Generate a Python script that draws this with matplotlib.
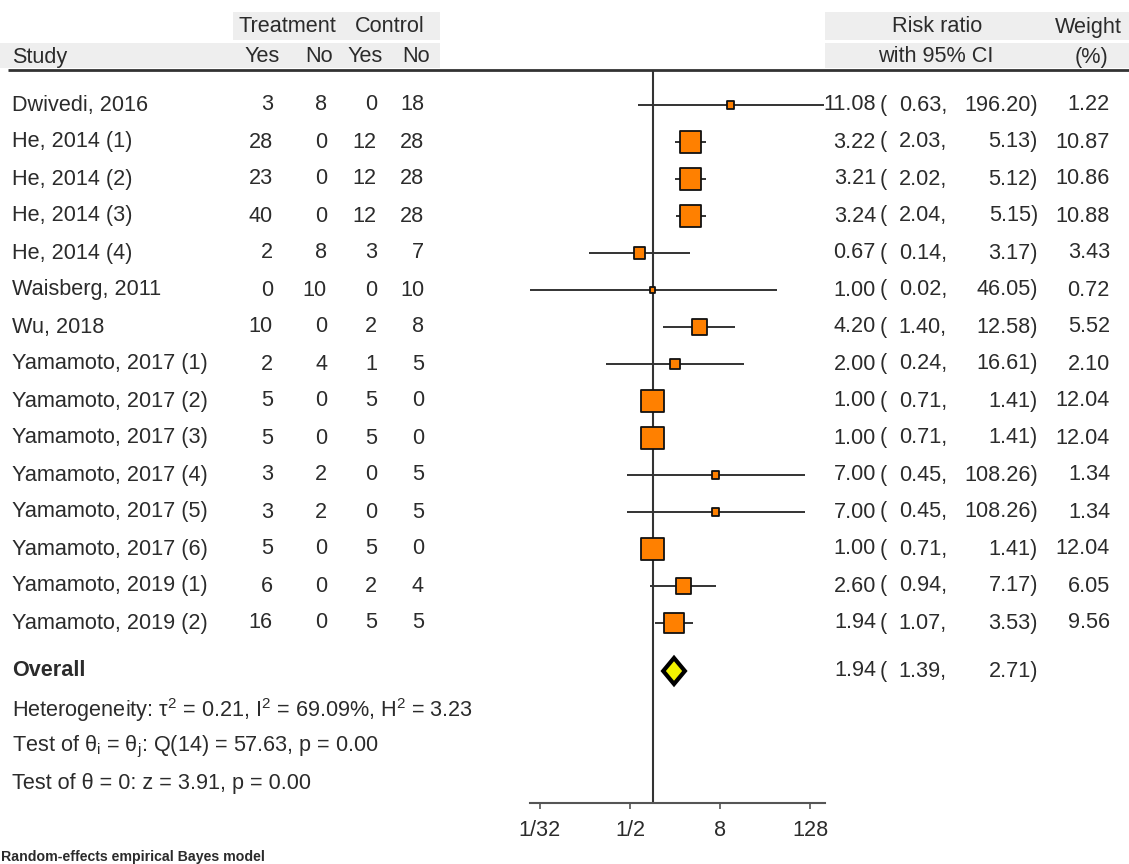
import numpy as np
import matplotlib
matplotlib.use("Agg")
import matplotlib.pyplot as plt
from matplotlib.patches import Rectangle, Polygon

# ---------------- data ----------------
studies = ["Dwivedi, 2016", "He, 2014 (1)", "He, 2014 (2)", "He, 2014 (3)", "He, 2014 (4)",
           "Waisberg, 2011", "Wu, 2018", "Yamamoto, 2017 (1)", "Yamamoto, 2017 (2)",
           "Yamamoto, 2017 (3)", "Yamamoto, 2017 (4)", "Yamamoto, 2017 (5)",
           "Yamamoto, 2017 (6)", "Yamamoto, 2019 (1)", "Yamamoto, 2019 (2)"]
treat_yes = [3, 28, 23, 40, 2, 0, 10, 2, 5, 5, 3, 3, 5, 6, 16]
treat_no = [8, 0, 0, 0, 8, 10, 0, 4, 0, 0, 2, 2, 0, 0, 0]
ctrl_yes = [0, 12, 12, 12, 3, 0, 2, 1, 5, 5, 0, 0, 5, 2, 5]
ctrl_no = [18, 28, 28, 28, 7, 10, 8, 5, 0, 0, 5, 5, 0, 4, 5]
rr = [11.08, 3.22, 3.21, 3.24, 0.67, 1.00, 4.20, 2.00, 1.00, 1.00, 7.00, 7.00, 1.00, 2.60, 1.94]
ci_lo = [0.63, 2.03, 2.02, 2.04, 0.14, 0.02, 1.40, 0.24, 0.71, 0.71, 0.45, 0.45, 0.71, 0.94, 1.07]
ci_hi = [196.20, 5.13, 5.12, 5.15, 3.17, 46.05, 12.58, 16.61, 1.41, 1.41, 108.26, 108.26, 1.41, 7.17, 3.53]
weight = [1.22, 10.87, 10.86, 10.88, 3.43, 0.72, 5.52, 2.10, 12.04, 12.04, 1.34, 1.34, 12.04, 6.05, 9.56]
overall_rr, overall_lo, overall_hi = 1.94, 1.39, 2.71
tick_values = [1/32, 1/2, 8, 128]
tick_labels = ["1/32", "1/2", "8", "128"]
het_lines = [r"Heterogeneity: τ$^2$ = 0.21, I$^2$ = 69.09%, H$^2$ = 3.23",
             r"Test of θ$_\mathrm{i}$ = θ$_\mathrm{j}$: Q(14) = 57.63, p = 0.00",
             r"Test of θ = 0: z = 3.91, p = 0.00"]
footer = "Random-effects empirical Bayes model"

# ---------------- style ----------------
plt.rcParams["font.family"] = ["Liberation Sans", "DejaVu Sans"]
plt.rcParams["mathtext.fontset"] = "custom"
plt.rcParams["mathtext.rm"] = "Liberation Sans"
plt.rcParams["mathtext.it"] = "Liberation Sans:italic"
plt.rcParams["mathtext.bf"] = "Liberation Sans:bold"
TXT = "#2b2b2b"
FS = 15.6
W, H = 1129, 864
ROW0, ROWH = 105.0, 37.0


def r(pix):
    return (pix - ROW0) / ROWH


fig = plt.figure(figsize=(W / 100, H / 100), dpi=100)
fig.patch.set_facecolor("white")

# text axes: x in pixels, y in row units
ax_t = fig.add_axes([0, 0, 1, 1])
ax_t.set_xlim(0, W)
ax_t.set_ylim(r(H), r(0))
ax_t.axis("off")

# header backgrounds
GRAY = "#eeeeee"
for (x0, x1, y0, y1) in [(233, 440, 12, 40), (0, 440, 43, 68), (825, W, 12, 40), (825, W, 43, 68)]:
    ax_t.add_patch(Rectangle((x0, r(y0)), x1 - x0, r(y1) - r(y0), facecolor=GRAY, edgecolor="none", zorder=0))
ax_t.plot([8, W], [r(70), r(70)], color="#333333", lw=2.0, solid_capstyle="butt", zorder=3)

# header texts
ax_t.text(287, r(27), "Treatment", ha="center", va="center", fontsize=FS, color=TXT)
ax_t.text(390, r(27), "Control", ha="center", va="center", fontsize=FS, color=TXT)
ax_t.text(12, r(57), "Study", ha="left", va="center", fontsize=FS, color=TXT)
for xr, lab in zip([280, 333, 383, 430], ["Yes", "No", "Yes", "No"]):
    ax_t.text(xr, r(57), lab, ha="right", va="center", fontsize=FS, color=TXT)
ax_t.text(937, r(27), "Risk ratio", ha="center", va="center", fontsize=FS, color=TXT)
ax_t.text(936, r(57), "with 95% CI", ha="center", va="center", fontsize=FS, color=TXT)
ax_t.text(1088, r(27), "Weight", ha="center", va="center", fontsize=FS, color=TXT)
ax_t.text(1091, r(57), "(%)", ha="center", va="center", fontsize=FS, color=TXT)


def rr_text(y, est, lo, hi):
    ax_t.text(876, y, f"{est:.2f}", ha="right", va="center", fontsize=FS, color=TXT)
    ax_t.text(880, y, "(", ha="left", va="center", fontsize=FS, color=TXT)
    ax_t.text(947, y, f"{lo:.2f},", ha="right", va="center", fontsize=FS, color=TXT)
    ax_t.text(1038, y, f"{hi:.2f})", ha="right", va="center", fontsize=FS, color=TXT)


# rows
for i, name in enumerate(studies):
    ax_t.text(12, i, name, ha="left", va="center", fontsize=FS, color=TXT)
    for xr, v in zip([273, 327, 377, 424], [treat_yes[i], treat_no[i], ctrl_yes[i], ctrl_no[i]]):
        ax_t.text(xr, i, str(v), ha="right", va="center", fontsize=FS, color=TXT)
    rr_text(i, rr[i], ci_lo[i], ci_hi[i])
    ax_t.text(1110, i, f"{weight[i]:.2f}", ha="right", va="center", fontsize=FS, color=TXT)

y_over = r(671)
ax_t.text(12, y_over, "Overall", ha="left", va="center", fontsize=FS, color=TXT, fontweight="bold")
rr_text(y_over, overall_rr, overall_lo, overall_hi)
for yy, s in zip([710, 747, 784], het_lines):
    ax_t.text(12, r(yy), s, ha="left", va="center", fontsize=FS, color=TXT)
ax_t.text(1, r(857), footer, ha="left", va="center", fontsize=10.2, color=TXT, fontweight="bold")

# ---------------- forest axes ----------------
XL, XR, YT, YB = 530, 825, 70, 803
X1 = 652.5
PX_PER_LOG2 = 22.5
ax_f = fig.add_axes([XL / W, 1 - YB / H, (XR - XL) / W, (YB - YT) / H])
ax_f.patch.set_alpha(0)
ax_f.set_xscale("log", base=2)
ax_f.set_xlim(2 ** ((XL - X1) / PX_PER_LOG2), 2 ** ((XR - X1) / PX_PER_LOG2))
ax_f.set_ylim(r(YB), r(YT))
for s in ["top", "left", "right"]:
    ax_f.spines[s].set_visible(False)
ax_f.spines["bottom"].set_color("#555555")
ax_f.spines["bottom"].set_linewidth(1.5)
ax_f.set_yticks([])
ax_f.set_xticks(tick_values)
ax_f.set_xticklabels(tick_labels)
ax_f.minorticks_off()
ax_f.tick_params(axis="x", direction="out", length=4, width=1.2, color="#555555",
                 labelsize=FS, labelcolor=TXT, pad=8)

ax_f.axvline(1, color="#333333", lw=1.5, zorder=1)

rows = np.arange(len(studies))
ax_f.hlines(rows, ci_lo, ci_hi, color="#333333", lw=1.4, zorder=2)
side_pt = [0.72 * (6.3 * np.sqrt(w) + 0.3) for w in weight]
ax_f.scatter(rr, rows, marker="s", s=np.array(side_pt) ** 2, facecolor="#ff8000",
             edgecolor="#111111", linewidths=1.3, zorder=3)

# overall diamond
h = 13.0 / ROWH
diamond = Polygon([(overall_lo, y_over), (overall_rr, y_over - h), (overall_hi, y_over),
                   (overall_rr, y_over + h)], closed=True, facecolor="#f2f200",
                  edgecolor="#000000", lw=3.0, joinstyle="miter", zorder=3)
ax_f.add_patch(diamond)

fig.savefig("out.png", dpi=100)
